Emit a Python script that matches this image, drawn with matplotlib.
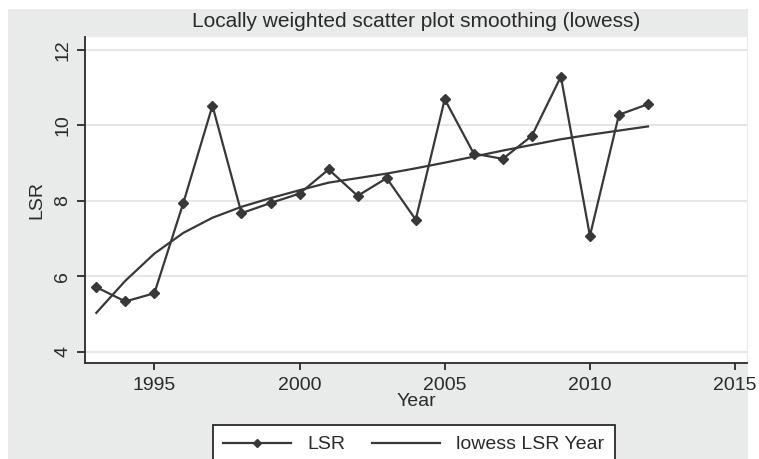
import numpy as np
import matplotlib
matplotlib.use("Agg")
import matplotlib.pyplot as plt
from matplotlib.patches import Rectangle

# -----------------------------
# data
# -----------------------------
years = [1993, 1994, 1995, 1996, 1997, 1998, 1999, 2000, 2001, 2002,
         2003, 2004, 2005, 2006, 2007, 2008, 2009, 2010, 2011, 2012]
lsr = [5.71, 5.33, 5.55, 7.95, 10.52, 7.67, 7.94, 8.19, 8.83, 8.13,
       8.60, 7.50, 10.69, 9.25, 9.11, 9.72, 11.29, 7.07, 10.28, 10.56]
lowess_lsr = [5.03, 5.88, 6.60, 7.15, 7.55, 7.84, 8.07, 8.28, 8.48, 8.60,
              8.72, 8.86, 9.01, 9.17, 9.33, 9.48, 9.63, 9.75, 9.86, 9.97]

x_ticks = [1995, 2000, 2005, 2010, 2015]
y_ticks = [4, 6, 8, 10, 12]

INK = "#383838"
TXT = "#2a2a2a"
BG = "#e9eaea"
FS = 14

plt.rcParams["font.family"] = ["Liberation Sans", "DejaVu Sans"]

# -----------------------------
# figure + background
# -----------------------------
fig = plt.figure(figsize=(7.59, 4.59), dpi=100, facecolor="white")
fig.patches.append(Rectangle((8 / 759, 0), 740 / 759, 450 / 459,
                             transform=fig.transFigure, facecolor=BG,
                             edgecolor="none", zorder=-10))

ax = fig.add_axes([85 / 759, 1 - 363 / 459, 662 / 759, 326 / 459])
ax.set_facecolor("white")

ax.plot(years, lsr, color=INK, lw=1.6, marker="D", markersize=5.5,
        markerfacecolor=INK, markeredgecolor=INK, label="LSR", zorder=3)
ax.plot(years, lowess_lsr, color=INK, lw=1.6, label="lowess LSR Year", zorder=2)

ax.set_xlim(1992.61, 2015.41)
ax.set_ylim(3.70, 12.34)
ax.set_xticks(x_ticks)
ax.set_yticks(y_ticks)

for yv in y_ticks:
    ax.axhline(yv, color="#e6e6e6", lw=1.5, zorder=0)

for side in ("top", "right"):
    ax.spines[side].set_visible(False)
for side in ("left", "bottom"):
    ax.spines[side].set_color(TXT)
    ax.spines[side].set_linewidth(1.3)

ax.tick_params(axis="both", colors=TXT, labelsize=FS, width=1.3)
ax.tick_params(axis="x", length=5, pad=5)
ax.tick_params(axis="y", length=6, pad=4)
for lbl in ax.get_yticklabels():
    lbl.set_rotation(90)
    lbl.set_va("center")

ax.set_title("Locally weighted scatter plot smoothing (lowess)",
             fontsize=15, color=TXT, pad=7)
ax.set_xlabel("Year", fontsize=FS, color=TXT)
ax.set_ylabel("LSR", fontsize=FS, color=TXT)
ax.xaxis.set_label_coords(0.5, -0.092)
ax.yaxis.set_label_coords(-0.060, 0.5)

leg = fig.legend(loc="upper center", bbox_to_anchor=(0.545, 1 - 425 / 459),
                 bbox_transform=fig.transFigure, ncol=2, fontsize=FS,
                 frameon=True, fancybox=False, borderaxespad=0,
                 handlelength=3.5, handletextpad=0.8, columnspacing=1.4,
                 borderpad=0.55, markerscale=0.8)
leg.get_frame().set_edgecolor(TXT)
leg.get_frame().set_linewidth(1.3)
leg.get_frame().set_facecolor("white")
leg.get_frame().set_alpha(1)
for t in leg.get_texts():
    t.set_color(TXT)

fig.savefig("out.png", dpi=100, facecolor=fig.get_facecolor())
